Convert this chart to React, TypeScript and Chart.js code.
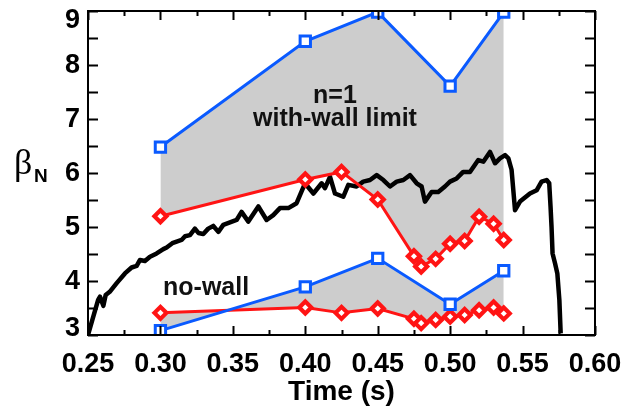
import React, { useEffect, useRef } from "react";
import { Chart, registerables } from "chart.js";

Chart.register(...registerables);

// ---------------- data ----------------
const blueTimes = [0.3, 0.4, 0.45, 0.5, 0.537];
const blueWithWall = [6.48, 8.44, 8.98, 7.61, 8.98];
const blueNoWall = [3.08, 3.89, 4.42, 3.57, 4.19];

const redTimes = [0.3, 0.4, 0.425, 0.45, 0.475, 0.48, 0.49, 0.5, 0.51, 0.52, 0.53, 0.537];
const redWithWall = [5.2, 5.88, 6.02, 5.51, 4.46, 4.27, 4.41, 4.69, 4.74, 5.19, 5.06, 4.76];
const redNoWall = [3.41, 3.51, 3.41, 3.49, 3.3, 3.22, 3.28, 3.34, 3.37, 3.46, 3.51, 3.4];

const traceTimes = [
  0.25, 0.253, 0.257, 0.2583, 0.2606, 0.2622, 0.265, 0.2698, 0.2755, 0.2801, 0.2836, 0.2859,
  0.2893, 0.2928, 0.2974, 0.302, 0.3043, 0.3082, 0.3112, 0.3146, 0.317, 0.3204, 0.3238, 0.3262,
  0.3296, 0.333, 0.3365, 0.34, 0.3434, 0.3526, 0.356, 0.3607, 0.3676, 0.3733, 0.3779, 0.3825,
  0.3883, 0.394, 0.3998, 0.4056, 0.4113, 0.4136, 0.4171, 0.4205, 0.4262, 0.4297, 0.4354, 0.44,
  0.4447, 0.4493, 0.4539, 0.4585, 0.4631, 0.4677, 0.4723, 0.4769, 0.4803, 0.4826, 0.4872, 0.4918,
  0.4964, 0.4999, 0.5045, 0.509, 0.5137, 0.5194, 0.5229, 0.5275, 0.531, 0.5344, 0.5379, 0.5402,
  0.5424, 0.5448, 0.5482, 0.5551, 0.5597, 0.5631, 0.5666, 0.5684, 0.5693, 0.57, 0.5707, 0.5724,
  0.574, 0.5754, 0.5763,
];
const traceBeta = [
  3.0, 3.28, 3.65, 3.71, 3.54, 3.74, 3.8, 3.96, 4.14, 4.25, 4.28, 4.39,
  4.37, 4.45, 4.51, 4.59, 4.62, 4.7, 4.73, 4.76, 4.83, 4.85, 4.97, 4.89,
  4.87, 4.97, 5.02, 4.91, 5.04, 5.13, 5.28, 5.1, 5.38, 5.13, 5.22, 5.35,
  5.35, 5.44, 5.81, 5.62, 5.81, 5.72, 5.93, 5.62, 5.56, 5.78, 5.75, 5.84,
  5.87, 5.96, 5.87, 5.75, 5.84, 5.87, 5.96, 5.81, 5.75, 5.47, 5.65, 5.65,
  5.75, 5.84, 5.9, 6.02, 6.02, 6.24, 6.21, 6.39, 6.18, 6.27, 6.33, 6.27,
  6.06, 5.31, 5.47, 5.62, 5.68, 5.84, 5.87, 5.81, 5.38, 5.0, 4.51, 4.33,
  4.14, 3.65, 3.03,
];

const xMajorTicks = [0.25, 0.3, 0.35, 0.4, 0.45, 0.5, 0.55, 0.6];
const xMinorTicks = [0.275, 0.325, 0.375, 0.425, 0.475, 0.525, 0.575];
const yMajorTicks = [3, 4, 5, 6, 7, 8, 9];
const yMinorTicks = [3.5, 4.5, 5.5, 6.5, 7.5, 8.5];

const xAxisTitle = "Time (s)";
const annotations = [
  { text: "n=1", x: 0.4205, y: 7.3, align: "center" },
  { text: "with-wall limit", x: 0.4205, y: 6.87, align: "center" },
  { text: "no-wall", x: 0.3018, y: 3.74, align: "left" },
];

// ---------------- style ----------------
const BLUE = "rgb(10, 90, 255)";
const RED = "rgb(255, 20, 20)";
const GRAY = "rgb(205, 205, 205)";
const SANS = '"Liberation Sans", Arial, Helvetica, sans-serif';

const toXY = (xs: number[], ys: number[]) => xs.map((x, i) => ({ x, y: ys[i] }));

const framePlugin = {
  id: "frame",
  afterDatasetsDraw(chart: any) {
    const { ctx, scales } = chart;
    const xs = scales.x;
    const ys = scales.y;
    ctx.save();
    ctx.fillStyle = "#111";
    ctx.font = `bold 25px ${SANS}`;
    ctx.textBaseline = "alphabetic";
    for (const an of annotations) {
      ctx.textAlign = an.align as CanvasTextAlign;
      ctx.fillText(an.text, xs.getPixelForValue(an.x), ys.getPixelForValue(an.y));
    }
    ctx.restore();
  },
  afterDraw(chart: any) {
    const { ctx, chartArea: a, scales } = chart;
    const xs = scales.x;
    const ys = scales.y;
    ctx.save();
    ctx.strokeStyle = "#000";
    ctx.lineWidth = 2;
    ctx.strokeRect(a.left, a.top, a.right - a.left, a.bottom - a.top);
    ctx.beginPath();
    const xt = (v: number, len: number) => {
      const px = Math.round(xs.getPixelForValue(v)) + 0.5;
      ctx.moveTo(px, a.bottom);
      ctx.lineTo(px, a.bottom - len);
      ctx.moveTo(px, a.top);
      ctx.lineTo(px, a.top + len);
    };
    const yt = (v: number, len: number) => {
      const py = Math.round(ys.getPixelForValue(v)) + 0.5;
      ctx.moveTo(a.left, py);
      ctx.lineTo(a.left + len, py);
      ctx.moveTo(a.right, py);
      ctx.lineTo(a.right - len, py);
    };
    xMajorTicks.forEach((v) => xt(v, 9));
    xMinorTicks.forEach((v) => xt(v, 5));
    yMajorTicks.forEach((v) => yt(v, 10));
    yMinorTicks.forEach((v) => yt(v, 10));
    ctx.stroke();

    // y tick labels
    ctx.fillStyle = "#000";
    ctx.font = `bold 27px ${SANS}`;
    ctx.textAlign = "right";
    ctx.textBaseline = "middle";
    for (const t of ys.ticks) {
      let py = ys.getPixelForValue(t.value);
      py = Math.max(a.top + 9, Math.min(a.bottom - 7, py));
      ctx.fillText(String(t.value), a.left - 8, py + 1);
    }

    // x axis title
    ctx.font = `bold 28px ${SANS}`;
    ctx.textAlign = "center";
    ctx.textBaseline = "alphabetic";
    ctx.fillText(xAxisTitle, (a.left + a.right) / 2, 400);

    // y axis title: beta_N
    ctx.textAlign = "left";
    ctx.font = `36px "Liberation Serif", "DejaVu Serif", serif`;
    ctx.fillText("\u03B2", 14, 174);
    ctx.font = `bold 19px ${SANS}`;
    ctx.fillText("N", 34, 182);
    ctx.restore();
  },
};

export default function App() {
  const ref = useRef<HTMLCanvasElement | null>(null);
  useEffect(() => {
    document.body.style.margin = "0";
    if (!ref.current) return;
    const blueCommon = {
      borderColor: BLUE,
      borderWidth: 3,
      pointStyle: "rect",
      pointBorderColor: BLUE,
      pointRadius: 7.3,
      pointHoverRadius: 7.3,
      pointBorderWidth: 3,
      pointBackgroundColor: "#fff",
      backgroundColor: GRAY,
    };
    const redCommon = {
      borderColor: RED,
      borderWidth: 3,
      pointStyle: "rectRot",
      pointBorderColor: RED,
      pointRadius: 6,
      pointHoverRadius: 6,
      pointBorderWidth: 4.2,
      pointBackgroundColor: "#fff",
      fill: false,
    };
    const chart = new Chart(ref.current, {
      type: "line",
      data: {
        datasets: [
          { label: "with-wall limit (blue)", data: toXY(blueTimes, blueWithWall), ...blueCommon, fill: 2 },
          { label: "no-wall (blue)", data: toXY(blueTimes, blueNoWall), ...blueCommon, fill: 3 },
          { label: "with-wall limit (red)", data: toXY(redTimes, redWithWall), ...redCommon },
          { label: "no-wall (red)", data: toXY(redTimes, redNoWall), ...redCommon },
          {
            label: "beta_N",
            data: toXY(traceTimes, traceBeta),
            borderColor: "#000",
            borderWidth: 4.5,
            pointRadius: 0,
            fill: false,
            borderJoinStyle: "round",
          },
        ],
      },
      options: {
        animation: false,
        responsive: false,
        devicePixelRatio: 1,
        layout: { padding: { top: 11, right: 40, left: 0, bottom: 0 } },
        plugins: {
          legend: { display: false },
          tooltip: { enabled: false },
          filler: { drawTime: "beforeDatasetsDraw" },
        },
        scales: {
          x: {
            type: "linear",
            min: 0.25,
            max: 0.6,
            grid: { display: false },
            border: { display: false },
            ticks: {
              stepSize: 0.05,
              autoSkip: false,
              maxRotation: 0,
              padding: 5,
              color: "#000",
              font: { family: SANS, size: 27, weight: "bold" },
              callback: (v: any) => Number(v).toFixed(2),
            },
            afterFit: (s: any) => {
              s.height = 75;
            },
          },
          y: {
            type: "linear",
            min: 3,
            max: 9,
            grid: { display: false },
            border: { display: false },
            ticks: { stepSize: 1, display: false },
            afterFit: (s: any) => {
              s.width = 88;
            },
          },
        },
      },
      plugins: [framePlugin],
    } as any);
    return () => chart.destroy();
  }, []);
  return (
    <div style={{ position: "absolute", left: 0, top: 0, width: 635, height: 410, background: "#fff" }}>
      <canvas ref={ref} width={635} height={410} />
    </div>
  );
}
